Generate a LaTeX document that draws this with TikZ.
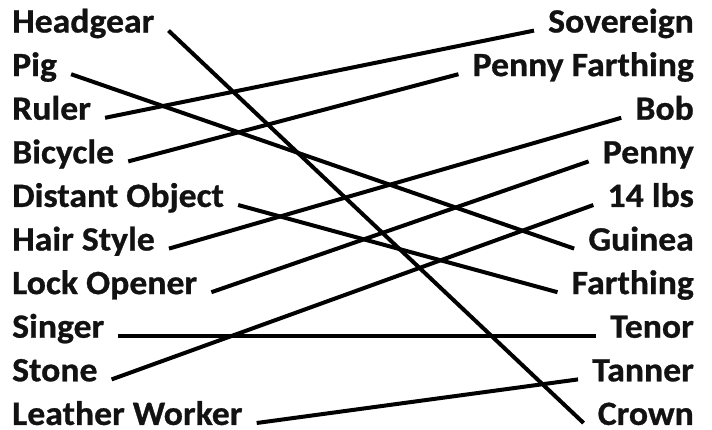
\documentclass[tikz,border=0pt]{standalone}
\usepackage{fontspec}
\setmainfont{Carlito}[FakeStretch=1.05,BoldFeatures={FakeBold=0.8}]
\usetikzlibrary{positioning}
\tikzset{
  word/.style={font=\fontsize{34}{40}\selectfont\bfseries,text=black!93,inner xsep=14pt,inner ysep=0pt,text height=0.38em,text depth=0pt},
  link/.style={line width=4pt,black}
}
\begin{document}
\begin{tikzpicture}[x=1pt,y=-1pt]
  \useasboundingbox[fill=white] (0,0) rectangle (712,429);
  % left column
  \foreach \w [count=\i] in {Headgear,Pig,Ruler,Bicycle,Distant Object,Hair Style,Lock Opener,Singer,Stone,Leather Worker}
    \node[word,anchor=base west] (l\i) at (-2,{32.5+43.6*(\i-1)}) {\w};
  % right column
  \foreach \w [count=\i] in {Sovereign,Penny Farthing,Bob,Penny,14 lbs,Guinea,Farthing,Tenor,Tanner,Crown}
    \node[word,anchor=base east] (r\i) at (708,{32.5+43.6*(\i-1)}) {\w};
  \path[link]
    (l1.east) edge (r10.west)
    (l2.east) edge (r6.west)
    (l3.east) edge (r1.west)
    (l4.east) edge (r2.west)
    (l5.east) edge (r7.west)
    (l6.east) edge (r3.west)
    (l7.east) edge (r4.west)
    (l8.east) edge (r8.west)
    (l9.east) edge (r5.west)
    (l10.east) edge (r9.west);
\end{tikzpicture}
\end{document}
